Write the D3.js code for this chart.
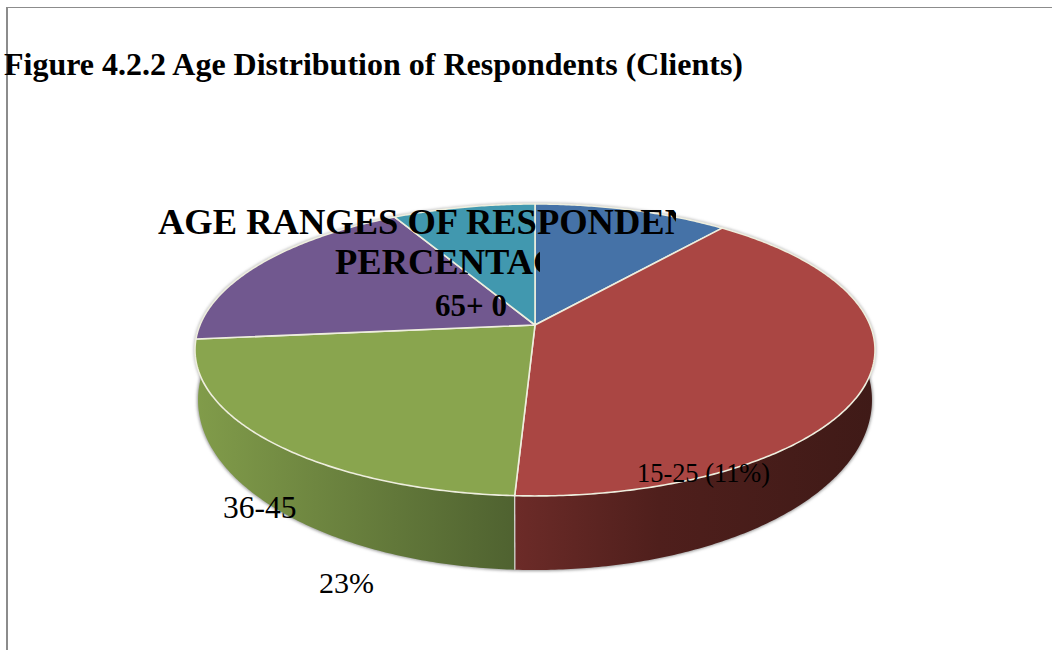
<!DOCTYPE html>
<html>
<head>
<meta charset="utf-8">
<script src="https://cdnjs.cloudflare.com/ajax/libs/d3/7.8.5/d3.min.js"></script>
<style>
html, body { margin: 0; padding: 0; background: #fff; }
svg { display: block; }
text { font-family: "Liberation Serif", serif; fill: #000; }
</style>
</head>
<body>
<svg width="1052" height="650"></svg>
<script>
// Chart values (clockwise from 12 o'clock)
var ageRanges = ['15-25', '26-35', '36-45', '46-65', '65+'];
var percents = [10.9, 39.9, 22.65, 18.55, 8];
var topColors = ['#4572a7', '#aa4643', '#89a54e', '#71588f', '#4198af'];
var wallDark = ['#2a4566', '#3f1a17', '#4f6230', '#453558', '#285d6b'];
var wallLight = ['#3a5f8c', '#6c2b28', '#819c4a', '#5d4876', '#357e91'];

var figureTitle = 'Figure 4.2.2 Age Distribution of Respondents (Clients)';
var chartTitleLines = ['AGE RANGES OF RESPONDENTS', 'PERCENTAGE'];
var labelRed = '15-25 (11%)';
var labelGreen = ['36-45', '23%'];
var labelTeal = '65+ 0';

var svg = d3.select('svg');
var defs = svg.append('defs');

// Page frame lines
svg.append('line').attr('x1', 7).attr('x2', 1052).attr('y1', 7.5).attr('y2', 7.5)
    .attr('stroke', '#8c8c8c').attr('stroke-width', 1);
svg.append('line').attr('x1', 7).attr('x2', 7).attr('y1', 7).attr('y2', 650)
    .attr('stroke', '#8c8c8c').attr('stroke-width', 2);

// Pie layout parameters. The disc is seen in perspective, so the apex is not
// the centre of the ellipse, and the lower disc is a bit rounder than the top one
var cx = 535, tilt = 0.171;
var topDisc = {radiusX: 335, apexY: 325, radiusY: 141.7};
var lowDisc = {radiusX: 332, apexY: 371, radiusY: 165};

function discScales(disc) {
    return {
        x: d3.scaleLinear().domain([-1, 1]).range([cx - disc.radiusX, cx + disc.radiusX]),
        y: d3.scaleLinear().domain([-1, 1]).range([disc.apexY - disc.radiusY, disc.apexY + disc.radiusY])
    };
}
var topScales = discScales(topDisc);
var lowScales = discScales(lowDisc);

function project(angle, scales) {
    var px = Math.sin(angle), py = -Math.cos(angle);
    var w = 1 - tilt * py;
    return [scales.x(px / w), scales.y(py / w)];
}

function rim(a0, a1, scales) {
    var n = Math.max(2, Math.ceil((a1 - a0) / 0.01));
    return d3.range(n + 1).map(function(i) {
        return project(a0 + (a1 - a0) * i / n, scales);
    });
}

var line = d3.line();
var slices = d3.pie().sort(null)(percents);

// Soft edge around the pie body
defs.append('filter').attr('id', 'soft')
    .attr('x', '-5%').attr('y', '-5%').attr('width', '110%').attr('height', '110%')
    .append('feGaussianBlur').attr('stdDeviation', 1.6);

svg.append('path')
    .attr('d', line(rim(0, 2 * Math.PI, lowScales)) + 'Z')
    .attr('fill', '#9a9a9a')
    .attr('stroke', '#9a9a9a')
    .attr('stroke-width', 2)
    .attr('filter', 'url(#soft)');

svg.append('path')
    .attr('d', line(rim(0, 2 * Math.PI, topScales)) + 'Z')
    .attr('fill', 'none')
    .attr('stroke', '#a8a8a8')
    .attr('stroke-width', 2)
    .attr('filter', 'url(#soft)');

// Side walls, one gradient per slice running across the visible wall
slices.forEach(function(d, i) {
    var xs = d3.extent(rim(d.startAngle, d.endAngle, topScales), function(p) { return p[0]; });
    var grad = defs.append('linearGradient')
        .attr('id', 'wall' + i)
        .attr('gradientUnits', 'userSpaceOnUse')
        .attr('x1', xs[0]).attr('x2', xs[1]).attr('y1', 0).attr('y2', 0);
    grad.append('stop').attr('offset', '0%').attr('stop-color', wallLight[i]);
    if (i === 1) {
        // red wall falls off quicker
        grad.append('stop').attr('offset', '40%').attr('stop-color', '#4f1f1c');
    }
    grad.append('stop').attr('offset', '100%').attr('stop-color', wallDark[i]);
});

// Only the red and green walls face the viewer. The green one wraps a little
// past its slice so no purple shows at the left edge
var wallStretch = [0, 0, 0.3, 0, 0];
svg.append('g').selectAll('path')
    .data(slices.filter(function(d) { return d.index === 1 || d.index === 2; }))
    .enter().append('path')
    .attr('d', function(d) {
        var end = d.endAngle + wallStretch[d.index];
        var upper = rim(d.startAngle, end, topScales);
        var lower = rim(d.startAngle, end, lowScales).reverse();
        return line(upper.concat(lower)) + 'Z';
    })
    .attr('fill', function(d) { return 'url(#wall' + d.index + ')'; });

// White divider between the two walls
var divider = slices[1].endAngle;
svg.append('path')
    .attr('d', line([project(divider, topScales), project(divider, lowScales)]))
    .attr('stroke', '#e0e0e0')
    .attr('stroke-width', 1.2);

// Top of the pie
svg.append('g').selectAll('path')
    .data(slices)
    .enter().append('path')
    .attr('d', function(d) {
        return line([[cx, topDisc.apexY]].concat(rim(d.startAngle, d.endAngle, topScales))) + 'Z';
    })
    .attr('fill', function(d, i) { return topColors[i]; })
    .attr('stroke', '#eeeede')
    .attr('stroke-width', 1.6)
    .attr('stroke-linejoin', 'round');

// Titles. The chart title is cut off by its box in the original
svg.append('text')
    .attr('x', 4).attr('y', 75)
    .style('font-size', '32px').style('font-weight', 'bold')
    .text(figureTitle);

var clipEnds = [676, 540];
chartTitleLines.forEach(function(t, i) {
    defs.append('clipPath').attr('id', 'titleClip' + i)
        .append('rect').attr('x', 100).attr('y', 190 + i * 40)
        .attr('width', clipEnds[i] - 100).attr('height', 50);
    svg.append('g').attr('clip-path', 'url(#titleClip' + i + ')')
        .append('text')
        .attr('x', [158, 335][i]).attr('y', [234, 274][i])
        .style('font-size', '36.5px').style('font-weight', 'bold')
        .text(t);
});

// Data labels, placed as in the original
svg.append('text').attr('x', 435).attr('y', 316)
    .style('font-size', '31px').style('font-weight', 'bold')
    .text(labelTeal);
svg.append('text').attr('x', 637).attr('y', 482)
    .style('font-size', '26.4px')
    .text(labelRed);
svg.append('text').attr('x', 223).attr('y', 518)
    .style('font-size', '31.5px')
    .text(labelGreen[0]);
svg.append('text').attr('x', 319).attr('y', 593)
    .style('font-size', '30px')
    .text(labelGreen[1]);
</script>
</body>
</html>
